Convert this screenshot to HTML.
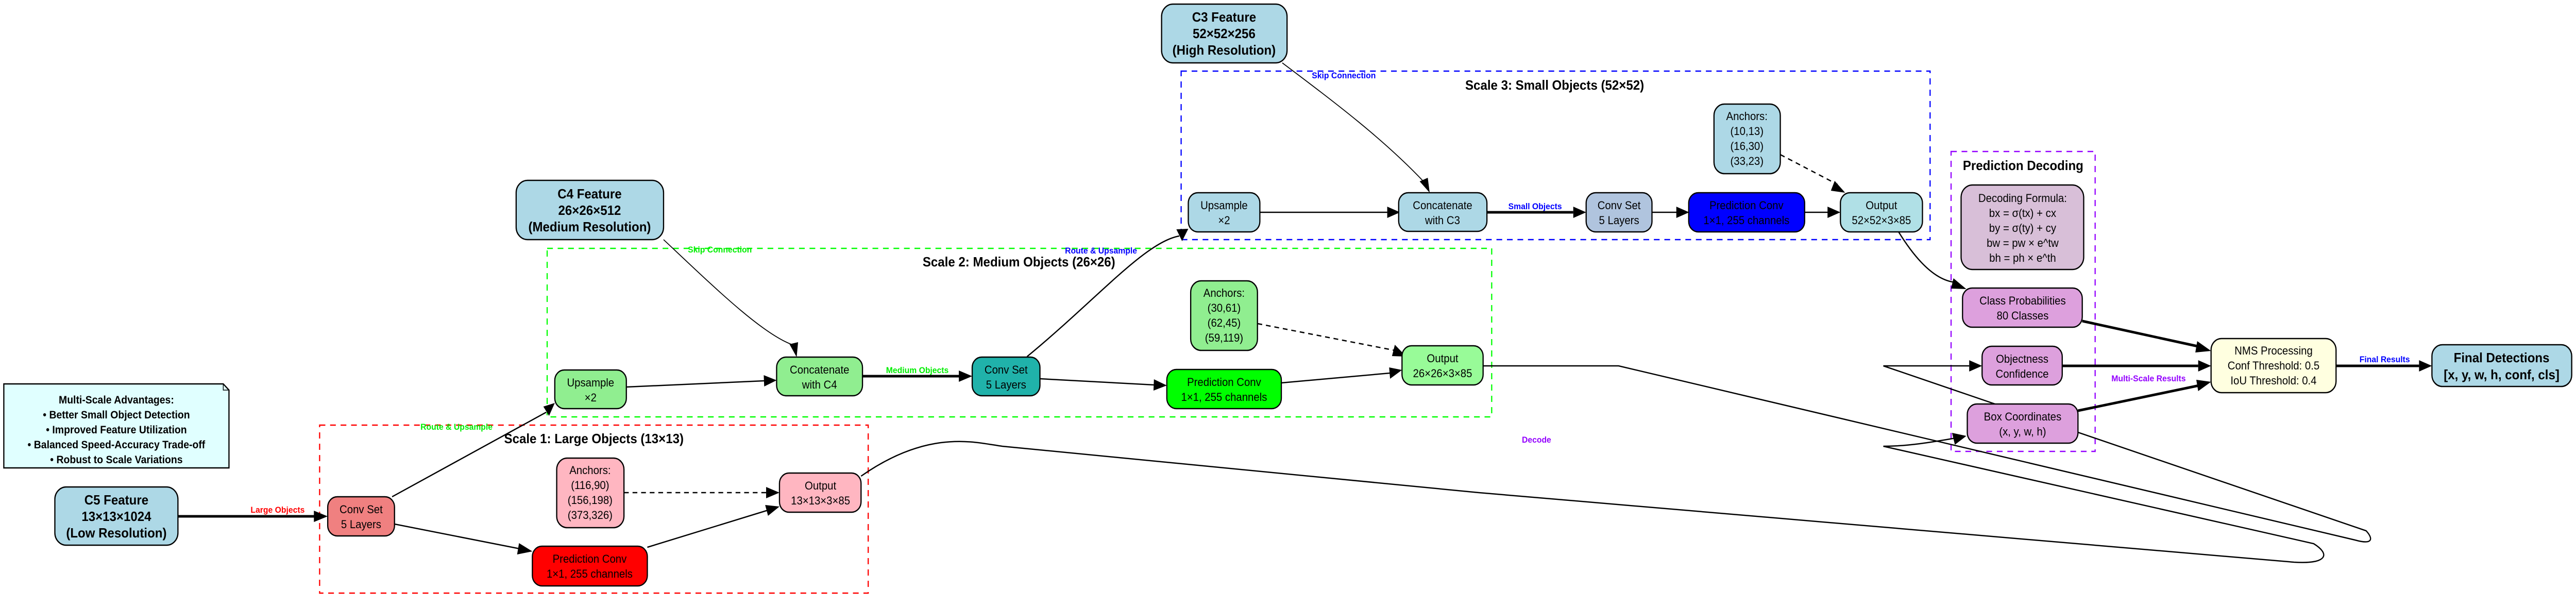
<!DOCTYPE html>
<html><head><meta charset="utf-8"><style>
html,body{margin:0;padding:0;background:#fff;overflow:hidden;width:100%;height:100%;}
svg{display:block;width:100vw;height:100vh;}
text{font-family:"Liberation Sans",Arial,sans-serif;}
.n{font-size:22px;text-anchor:middle;fill:#000;}
.b{font-weight:bold;}
.f{font-size:26px;font-weight:bold;text-anchor:middle;}
.t{font-size:26px;font-weight:bold;text-anchor:middle;}
.l{font-size:17px;font-weight:bold;text-anchor:middle;}
.nd{stroke:#000;stroke-width:2.5;}
.e{fill:none;stroke:#000;stroke-width:2.5;}
.eb{fill:none;stroke:#000;stroke-width:5;}
.et{fill:none;stroke:#000;stroke-width:1.8;}
.ed{fill:none;stroke:#000;stroke-width:2.5;stroke-dasharray:10 8;}
.c{fill:none;stroke-width:2.5;stroke-dasharray:12 10;}
</style></head><body>
<svg viewBox="0 0 5400 1176" preserveAspectRatio="none" xmlns="http://www.w3.org/2000/svg">

<!-- clusters -->
<rect class="c" x="670" y="825" width="1150" height="326" stroke="#ff0000"/>
<text class="t" x="1245" y="860">Scale 1: Large Objects (13×13)</text>
<rect class="c" x="1147" y="482" width="1980" height="327" stroke="#00ff00"/>
<text class="t" x="2136" y="517">Scale 2: Medium Objects (26×26)</text>
<rect class="c" x="2476" y="138" width="1570" height="327" stroke="#0000ff"/>
<text class="t" x="3259" y="174">Scale 3: Small Objects (52×52)</text>
<rect class="c" x="4090" y="294" width="302" height="582" stroke="#9400ff"/>
<text class="t" x="4241" y="330">Prediction Decoding</text>

<!-- edges -->
<g>
<line class="eb" x1="373" y1="1002" x2="660" y2="1002"/><path d="M658,991 L687,1002 L658,1013 z"/>
<path class="e" d="M822,964 L1145,800"/>
<path d="M1139,789 L1163,782 L1151,807 z"/>
<line class="e" x1="827" y1="1017" x2="1090" y2="1065"/><path d="M1088,1054 L1116,1070 L1084,1076 z"/>
<line class="e" x1="1357" y1="1062" x2="1610" y2="990"/><path d="M1604,980 L1634,983 L1610,1001 z"/>
<line class="ed" x1="1308" y1="956" x2="1606" y2="956"/><path d="M1606,945 L1634,956 L1606,967 z"/>
<path class="et" d="M1391,465 C1500,560 1600,650 1664,670"/><path d="M1655,668 L1670,693 L1673,664 z"/>
<line class="e" x1="1313" y1="751" x2="1602" y2="739"/><path d="M1601,728 L1628,738 L1602,750 z"/>
<line class="eb" x1="1808" y1="730" x2="2012" y2="730"/><path d="M2010,719 L2038,730 L2010,741 z"/>
<path class="e" d="M2153,692 C2300,580 2400,470 2472,458"/><path d="M2466,445 L2491,444 L2478,468 z"/>
<line class="e" x1="2180" y1="735" x2="2420" y2="747"/><path d="M2419,736 L2446,748 L2418,758 z"/>
<line class="e" x1="2686" y1="743" x2="2914" y2="724"/><path d="M2912,713 L2939,718 L2914,735 z"/>
<line class="ed" x1="2636" y1="628" x2="2924" y2="680"/><path d="M2924,669 L2948,692 L2918,691 z"/>
<path class="et" d="M2688,122 C2800,200 2900,270 2984,352"/><path d="M2976,352 L2997,374 L2993,345 z"/>
<line class="e" x1="2641" y1="412" x2="2908" y2="412"/><path d="M2908,401 L2935,412 L2908,423 z"/>
<line class="eb" x1="3117" y1="412" x2="3298" y2="412"/><path d="M3298,401 L3325,412 L3298,423 z"/>
<line class="e" x1="3463" y1="412" x2="3516" y2="412"/><path d="M3514,401 L3541,412 L3514,423 z"/>
<line class="e" x1="3783" y1="412" x2="3832" y2="412"/><path d="M3831,401 L3858,412 L3831,423 z"/>
<line class="ed" x1="3732" y1="300" x2="3852" y2="358"/><path d="M3846,351 L3868,374 L3838,370 z"/>
<path class="e" d="M3980,450 C4020,510 4060,545 4100,548"/><path d="M4095,540 L4122,561 L4090,560 z"/>
<line class="eb" x1="4365" y1="623" x2="4612" y2="673"/><path d="M4606,662 L4635,681 L4602,684 z"/>
<line class="eb" x1="4323" y1="710" x2="4608" y2="710"/><path d="M4608,699 L4635,710 L4608,721 z"/>
<line class="eb" x1="4356" y1="797" x2="4610" y2="748"/><path d="M4604,737 L4635,741 L4608,759 z"/>
<line class="eb" x1="4897" y1="710" x2="5071" y2="710"/><path d="M5071,699 L5098,710 L5071,721 z"/>
<!-- decode loops -->
<path class="e" d="M3109,710 L3393,710 L4937,1048 C4975,1058 4975,1045 4960,1030 L3948,710 L4128,710"/><path d="M4128,699 L4155,710 L4128,721 z"/>
<path class="e" d="M1805,924 C1950,830 2050,860 2101,866 L3100,956 L4809,1091 C4880,1095 4885,1075 4850,1055 L3948,866 C4000,866 4050,858 4100,850"/><path d="M4092,840 L4122,846 L4098,863 z"/>
</g>

<!-- edge labels -->
<text class="l" x="582" y="995" fill="#ff0000">Large Objects</text>
<text class="l" x="957" y="834" fill="#00ee00">Route &amp; Upsample</text>
<text class="l" x="1509" y="490" fill="#00ee00">Skip Connection</text>
<text class="l" x="1923" y="724" fill="#00ee00">Medium Objects</text>
<text class="l" x="2308" y="492" fill="#0000ff">Route &amp; Upsample</text>
<text class="l" x="2817" y="152" fill="#0000ff">Skip Connection</text>
<text class="l" x="3218" y="406" fill="#0000ff">Small Objects</text>
<text class="l" x="3221" y="859" fill="#9400ff">Decode</text>
<text class="l" x="4504" y="740" fill="#9400ff">Multi-Scale Results</text>
<text class="l" x="4999" y="703" fill="#0000ff">Final Results</text>

<!-- note -->
<path class="nd" d="M8,745 L468,745 L480,757 L480,908 L8,908 z" fill="#e0ffff"/>
<path d="M468,745 L468,757 L480,757" fill="none" stroke="#000" stroke-width="1.5"/>
<g class="n b" style="font-size:21px">
<text x="244" y="783">Multi-Scale Advantages:</text>
<text x="244" y="812">• Better Small Object Detection</text>
<text x="244" y="841">• Improved Feature Utilization</text>
<text x="244" y="870">• Balanced Speed-Accuracy Trade-off</text>
<text x="244" y="899">• Robust to Scale Variations</text>
</g>

<!-- feature nodes -->
<rect class="nd" x="115" y="945" width="258" height="113" rx="24" fill="#add8e6"/>
<text class="f" x="244" y="979">C5 Feature</text><text class="f" x="244" y="1011">13×13×1024</text><text class="f" x="244" y="1043">(Low Resolution)</text>
<rect class="nd" x="1082" y="350" width="309" height="115" rx="24" fill="#add8e6"/>
<text class="f" x="1236" y="385">C4 Feature</text><text class="f" x="1236" y="417">26×26×512</text><text class="f" x="1236" y="449">(Medium Resolution)</text>
<rect class="nd" x="2435" y="8" width="263" height="114" rx="24" fill="#add8e6"/>
<text class="f" x="2566" y="42">C3 Feature</text><text class="f" x="2566" y="74">52×52×256</text><text class="f" x="2566" y="106">(High Resolution)</text>

<!-- scale 1 -->
<rect class="nd" x="687" y="964" width="140" height="76" rx="20" fill="#f08080"/>
<text class="n" x="757" y="996">Conv Set</text><text class="n" x="757" y="1025">5 Layers</text>
<rect class="nd" x="1167" y="889" width="141" height="135" rx="22" fill="#ffb6c1"/>
<text class="n" x="1237" y="920">Anchors:</text><text class="n" x="1237" y="949">(116,90)</text><text class="n" x="1237" y="978">(156,198)</text><text class="n" x="1237" y="1007">(373,326)</text>
<rect class="nd" x="1634" y="918" width="171" height="76" rx="20" fill="#ffb6c1"/>
<text class="n" x="1720" y="950">Output</text><text class="n" x="1720" y="979">13×13×3×85</text>
<rect class="nd" x="1116" y="1060" width="241" height="77" rx="20" fill="#ff0000"/>
<text class="n" x="1236" y="1092">Prediction Conv</text><text class="n" x="1236" y="1121">1×1, 255 channels</text>

<!-- scale 2 -->
<rect class="nd" x="1163" y="718" width="150" height="75" rx="20" fill="#90ee90"/>
<text class="n" x="1238" y="750">Upsample</text><text class="n" x="1238" y="779">×2</text>
<rect class="nd" x="1628" y="693" width="180" height="75" rx="20" fill="#90ee90"/>
<text class="n" x="1718" y="725">Concatenate</text><text class="n" x="1718" y="754">with C4</text>
<rect class="nd" x="2038" y="693" width="142" height="75" rx="20" fill="#20b2aa"/>
<text class="n" x="2109" y="725">Conv Set</text><text class="n" x="2109" y="754">5 Layers</text>
<rect class="nd" x="2496" y="545" width="140" height="135" rx="22" fill="#90ee90"/>
<text class="n" x="2566" y="576">Anchors:</text><text class="n" x="2566" y="605">(30,61)</text><text class="n" x="2566" y="634">(62,45)</text><text class="n" x="2566" y="663">(59,119)</text>
<rect class="nd" x="2446" y="717" width="240" height="76" rx="20" fill="#00ff00"/>
<text class="n" x="2566" y="749">Prediction Conv</text><text class="n" x="2566" y="778">1×1, 255 channels</text>
<rect class="nd" x="2939" y="671" width="170" height="76" rx="20" fill="#98fb98"/>
<text class="n" x="3024" y="703">Output</text><text class="n" x="3024" y="732">26×26×3×85</text>

<!-- scale 3 -->
<rect class="nd" x="2491" y="374" width="150" height="76" rx="20" fill="#add8e6"/>
<text class="n" x="2566" y="406">Upsample</text><text class="n" x="2566" y="435">×2</text>
<rect class="nd" x="2932" y="374" width="185" height="75" rx="20" fill="#add8e6"/>
<text class="n" x="3024" y="406">Concatenate</text><text class="n" x="3024" y="435">with C3</text>
<rect class="nd" x="3325" y="374" width="138" height="76" rx="20" fill="#b0c4de"/>
<text class="n" x="3394" y="406">Conv Set</text><text class="n" x="3394" y="435">5 Layers</text>
<rect class="nd" x="3540" y="374" width="243" height="76" rx="20" fill="#0000ff"/>
<text class="n" x="3661" y="406">Prediction Conv</text><text class="n" x="3661" y="435">1×1, 255 channels</text>
<rect class="nd" x="3593" y="202" width="139" height="135" rx="22" fill="#add8e6"/>
<text class="n" x="3662" y="233">Anchors:</text><text class="n" x="3662" y="262">(10,13)</text><text class="n" x="3662" y="291">(16,30)</text><text class="n" x="3662" y="320">(33,23)</text>
<rect class="nd" x="3858" y="374" width="172" height="76" rx="20" fill="#b0e0e6"/>
<text class="n" x="3944" y="406">Output</text><text class="n" x="3944" y="435">52×52×3×85</text>

<!-- decoding -->
<rect class="nd" x="4111" y="359" width="257" height="164" rx="24" fill="#d8bfd8"/>
<text class="n" x="4240" y="392">Decoding Formula:</text><text class="n" x="4240" y="421">bx = σ(tx) + cx</text><text class="n" x="4240" y="450">by = σ(ty) + cy</text><text class="n" x="4240" y="479">bw = pw × e^tw</text><text class="n" x="4240" y="508">bh = ph × e^th</text>
<rect class="nd" x="4114" y="559" width="251" height="76" rx="20" fill="#dda0dd"/>
<text class="n" x="4240" y="591">Class Probabilities</text><text class="n" x="4240" y="620">80 Classes</text>
<rect class="nd" x="4155" y="672" width="168" height="75" rx="20" fill="#dda0dd"/>
<text class="n" x="4239" y="704">Objectness</text><text class="n" x="4239" y="733">Confidence</text>
<rect class="nd" x="4124" y="784" width="232" height="76" rx="20" fill="#dda0dd"/>
<text class="n" x="4240" y="816">Box Coordinates</text><text class="n" x="4240" y="845">(x, y, w, h)</text>

<rect class="nd" x="4635" y="657" width="262" height="105" rx="22" fill="#ffffe0"/>
<text class="n" x="4766" y="688">NMS Processing</text><text class="n" x="4766" y="717">Conf Threshold: 0.5</text><text class="n" x="4766" y="746">IoU Threshold: 0.4</text>
<rect class="nd" x="5098" y="669" width="293" height="81" rx="22" fill="#add8e6"/>
<text class="n b" x="5244" y="703" style="font-size:26px">Final Detections</text><text class="n b" x="5244" y="736" style="font-size:26px">[x, y, w, h, conf, cls]</text>
</svg>
</body></html>
